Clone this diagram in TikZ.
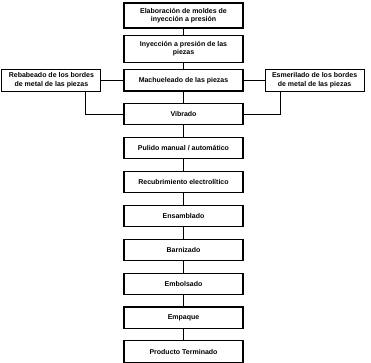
\documentclass[tikz,border=0pt]{standalone}
\usepackage{fontspec}
\setmainfont{Liberation Sans}
\usetikzlibrary{positioning}

\begin{document}
\begin{tikzpicture}[
  node distance=11.5pt,
  block/.style={
    draw,
    line width=1.1pt,
    align=center,
    minimum width=119pt,
    minimum height=21.3pt,
    inner sep=2pt,
    font=\fontsize{7}{8.5}\selectfont\bfseries
  },
  sideblock/.style={
    block,
    minimum width=99pt,
    minimum height=22pt
  },
  line/.style={line width=1.1pt}
]
\useasboundingbox (0pt,0pt) rectangle (371pt,-362pt);

% --- Main process column ---
\node[block,minimum height=25pt] (moldes) at (183.5pt,-15.5pt)
{Elaboración de moldes de\\inyección a presión};

\node[block,minimum height=27pt,below=6pt of moldes] (inyeccion)
{Inyección a presión de las\\piezas};

\node[block,below=6.5pt of inyeccion] (machueleado)
{Machueleado de las piezas};

\node[block,below=of machueleado] (vibrado) {Vibrado};

\node[block,below=of vibrado] (pulido) {Pulido manual / automático};

\node[block,below=of pulido] (recubrimiento) {Recubrimiento electrolítico};

\node[block,below=of recubrimiento] (ensamblado) {Ensamblado};

\node[block,below=of ensamblado] (barnizado) {Barnizado};

\node[block,below=of barnizado] (embolsado) {Embolsado};

\node[block,below=of embolsado] (empaque) {Empaque};

\node[block,below=of empaque] (terminado) {Producto Terminado};

% --- Side operations ---
\node[sideblock,left=22pt of machueleado] (rebabeado)
{Rebabeado de los bordes\\de metal de las piezas};

\node[sideblock,right=21pt of machueleado] (esmerilado)
{Esmerilado de los bordes\\de metal de las piezas};

% Connectors
\draw[line] (moldes) -- (inyeccion);
\draw[line] (inyeccion) -- (machueleado);
\draw[line] (machueleado) -- (vibrado);
\draw[line] (vibrado) -- (pulido);
\draw[line] (pulido) -- (recubrimiento);
\draw[line] (recubrimiento) -- (ensamblado);
\draw[line] (ensamblado) -- (barnizado);
\draw[line] (barnizado) -- (embolsado);
\draw[line] (embolsado) -- (empaque);
\draw[line] (empaque) -- (terminado);

\draw[line] (rebabeado) -- (machueleado);
\draw[line] (machueleado) -- (esmerilado);
\draw[line] ([xshift=-16pt]rebabeado.south east) |- (vibrado.west);
\draw[line] ([xshift=16pt]esmerilado.south west) |- (vibrado.east);

\end{tikzpicture}
\end{document}
